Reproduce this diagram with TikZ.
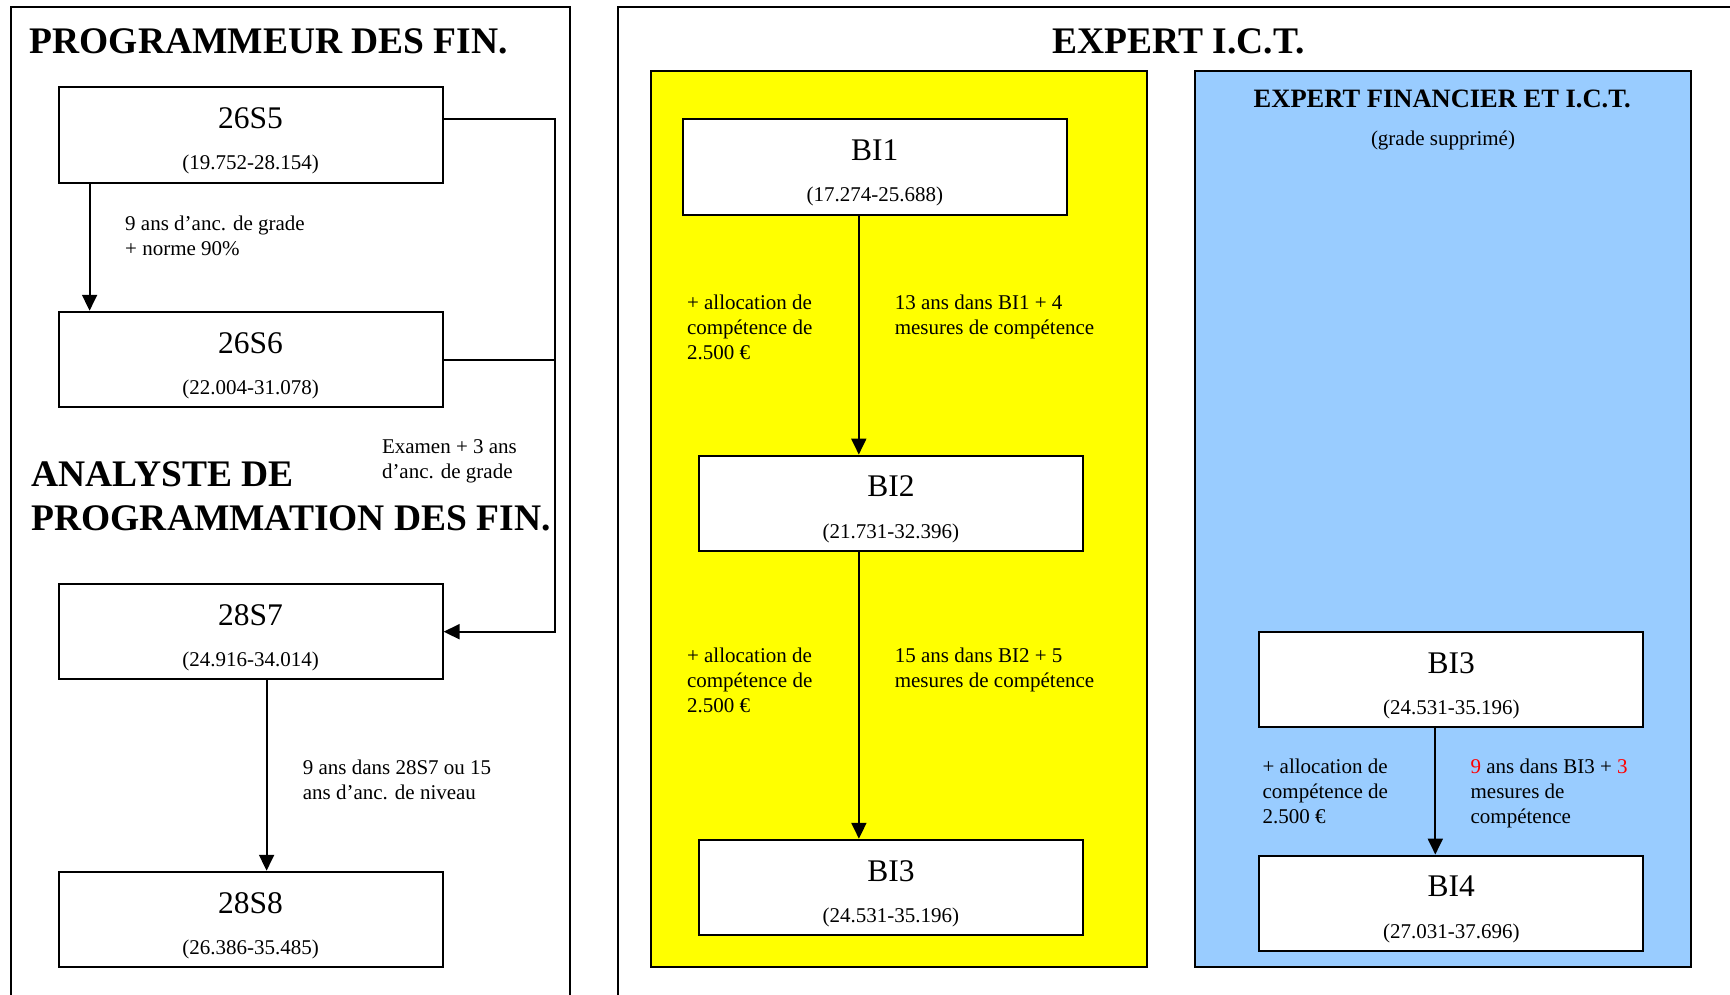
\documentclass[tikz,border=0pt]{standalone}
\usepackage{fontspec}
\setmainfont{Liberation Serif}
\usetikzlibrary{arrows.meta, positioning, calc}
\definecolor{pyellow}{HTML}{FFFF00}
\definecolor{pblue}{HTML}{99CCFF}
\definecolor{pred}{HTML}{FF0000}

\begin{document}
\begin{tikzpicture}[
  x=1pt, y=-1pt,
  every node/.style={inner sep=0pt},
  gradebox/.style={rectangle, draw=black, fill=white, line width=2pt, minimum width=384pt, minimum height=95.5pt, font=\fontsize{31.5}{31.5}\selectfont, text height=22pt, text depth=34.8pt, label={[font=\fontsize{21}{25}\selectfont, anchor=center, yshift=19pt]south:#1}},
  note/.style={anchor=north west, align=left, font=\fontsize{21}{25}\selectfont},
  bigtitle/.style={font=\fontsize{37.5}{43.6}\selectfont\bfseries, align=left},
  subtitle/.style={font=\fontsize{26.5}{30}\selectfont\bfseries},
  panel/.style={draw=black, line width=2pt},
  frame/.style={draw=black, line width=2pt},
  arr/.style={-{Triangle[length=16pt, width=15pt]}, line width=2pt},
]
\useasboundingbox (0,0) rectangle (1730,995);

% Frames
\draw[frame] (11,995) -- (11,7.5) -- (570,7.5) -- (570,995);
\draw[frame] (618,995) -- (618,7.5) -- (1730,7.5);

% Programmeur des fin.
\node[bigtitle, anchor=west] (tprog) at (29.6, 41.3) {PROGRAMMEUR DES FIN.};
\node[gradebox={(19.752-28.154)}] (s5) at (250.6, 135) {26S5};
\node[gradebox={(22.004-31.078)}] (s6) at (250.6, 359.5) {26S6};
\node[note] (n1) at (125, 215.5) {9 ans d’anc. de grade\\+ norme 90\%};

% Analyste de programmation des fin.
\node[bigtitle, anchor=north west] (tana) at (31.4, 461.7) {ANALYSTE DE\\PROGRAMMATION DES FIN.};
\node[note] (n2) at (381.8, 439) {Examen + 3 ans\\d’anc. de grade};
\node[gradebox={(24.916-34.014)}] (s7) at (250.6, 631.7) {28S7};
\node[gradebox={(26.386-35.485)}] (s8) at (250.6, 919.5) {28S8};
\node[note] (n3) at (302.6, 759.5) {9 ans dans 28S7 ou 15\\ans d’anc. de niveau};

% Expert I.C.T.
\node[bigtitle] (tict) at (1178.7, 41.5) {EXPERT I.C.T.};
\draw[panel, fill=pyellow] (651,71) rectangle (1146.8,966.7);
\draw[panel, fill=pblue] (1194.7,71) rectangle (1691.4,966.7);

\node[gradebox={(17.274-25.688)}] (bi1) at (874.8, 167) {BI1};
\node[gradebox={(21.731-32.396)}] (bi2) at (890.9, 503.3) {BI2};
\node[gradebox={(24.531-35.196)}] (bi3) at (890.9, 887.5) {BI3};
\node[note] (y1l) at (686.8, 294.8) {+ allocation de\\compétence de\\2.500 €};
\node[note] (y1r) at (894.6, 294.8) {13 ans dans BI1 + 4\\mesures de compétence};
\node[note] (y2l) at (686.8, 647.5) {+ allocation de\\compétence de\\2.500 €};
\node[note] (y2r) at (894.6, 647.5) {15 ans dans BI2 + 5\\mesures de compétence};

% Expert financier et I.C.T.
\node[subtitle] (tfin) at (1442.2, 99.3) {EXPERT FINANCIER ET I.C.T.};
\node[note, anchor=center] (tsup) at (1443, 140.7) {(grade supprimé)};
\node[gradebox={(24.531-35.196)}] (bj3) at (1451.3, 679.5) {BI3};
\node[gradebox={(27.031-37.696)}] (bj4) at (1451.3, 903.3) {BI4};
\node[note] (bl) at (1262.4, 759.2) {+ allocation de\\compétence de\\2.500 €};
\node[note] (br) at (1470.4, 759.2) {\textcolor{pred}{9} ans dans BI3 + \textcolor{pred}{3}\\mesures de\\compétence};

% Connections
\coordinate (bus) at (555, 0);
\draw[arr] ([xshift=32pt]s5.south west) -- ([xshift=32pt]s6.north west);
\draw[arr] ([yshift=16pt]s5.east) -| (bus |- s7.east) -- (s7.east);
\draw[line width=2pt] (s6.east) -- (s6.east -| bus);
\draw[arr] ([xshift=16pt]s7.south) -- ([xshift=16pt]s8.north);

\draw[arr] ([xshift=-16pt]bi1.south) -- ([xshift=-16pt]bi1.south |- bi2.north);
\draw[arr] ([xshift=-32pt]bi2.south) -- ([xshift=-32pt]bi3.north);
\draw[arr] ([xshift=-16pt]bj3.south) -- ([xshift=-16pt]bj4.north);

\end{tikzpicture}
\end{document}
